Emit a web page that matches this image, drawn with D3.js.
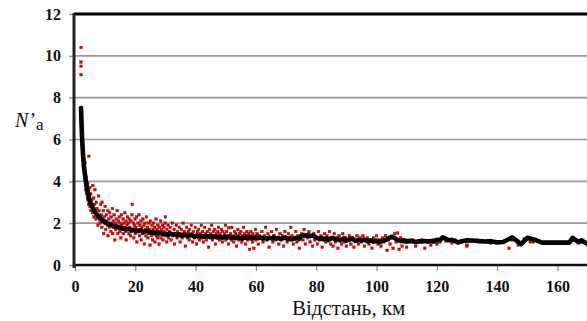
<!DOCTYPE html>
<html><head><meta charset="utf-8">
<script src="https://cdn.jsdelivr.net/npm/d3@7/dist/d3.min.js"></script>
<style>html,body{margin:0;padding:0;background:#fff;overflow:hidden}</style>
</head><body>
<script>
const yTicks = [0, 2, 4, 6, 8, 10, 12];
const xTicks = [0, 20, 40, 60, 80, 100, 120, 140, 160];
const xTitle = "Відстань, км";
const yTitleMain = "N’";
const yTitleSub = "a";

// averaged curve (black)
const lineData = [[2,7.5],[2.2,6.6],[2.4,5.9],[2.7,5.2],[3,4.7],[3.4,4.2],[3.8,3.8],[4.2,3.5],[4.7,3.2],[5.2,2.95],[5.8,2.75],[6.4,2.6],[7,2.45],[7.6,2.35],[8.3,2.25],[9,2.15],[9.7,2.08],[10.5,2.0],[11.2,1.95],[12,1.92],[12.8,1.86],[13.5,1.85],[14.3,1.8],[15,1.78],[15.8,1.75],[16.5,1.74],[17.2,1.7],[18,1.72],[18.7,1.66],[19.5,1.68],[20.2,1.63],[21,1.62],[21.8,1.66],[22.5,1.58],[23.3,1.6],[24,1.62],[24.8,1.55],[25.5,1.57],[26.3,1.52],[27,1.56],[27.8,1.5],[28.5,1.53],[29.3,1.48],[30,1.5],[30.8,1.46],[31.5,1.52],[32.3,1.45],[33,1.48],[33.8,1.43],[34.5,1.47],[35.3,1.4],[36,1.45],[36.8,1.42],[37.5,1.38],[38.3,1.44],[39,1.4],[39.8,1.36],[40.5,1.42],[41.3,1.37],[42,1.4],[42.8,1.34],[43.5,1.39],[44.3,1.35],[45,1.38],[45.8,1.33],[46.5,1.37],[47.3,1.32],[48,1.36],[48.8,1.3],[49.5,1.35],[50.3,1.31],[51,1.36],[51.8,1.3],[52.5,1.33],[53.3,1.28],[54,1.34],[54.8,1.3],[55.5,1.26],[56.3,1.32],[57,1.28],[57.8,1.33],[58.5,1.27],[59.3,1.3],[60,1.35],[60.8,1.28],[61.5,1.32],[62.3,1.26],[63,1.3],[63.8,1.25],[64.5,1.31],[65.3,1.27],[66,1.33],[66.8,1.26],[67.5,1.3],[68.3,1.24],[69,1.28],[69.8,1.32],[70.5,1.25],[71.3,1.29],[72,1.22],[72.8,1.27],[73.5,1.3],[74.3,1.24],[75,1.38],[75.8,1.42],[76.5,1.4],[77.3,1.43],[78,1.38],[78.8,1.41],[79.5,1.35],[80.3,1.3],[81,1.25],[81.8,1.3],[82.5,1.22],[83.3,1.27],[84,1.2],[84.8,1.26],[85.5,1.3],[86.3,1.22],[87,1.25],[87.8,1.18],[88.5,1.23],[89.3,1.28],[90,1.16],[91,1.22],[92,1.26],[93,1.15],[94,1.2],[95,1.17],[96,1.22],[97,1.13],[98,1.18],[99,1.12],[100,1.17],[101,1.1],[102,1.15],[103,1.2],[104,1.28],[105,1.35],[106,1.3],[107,1.2],[108,1.14],[109,1.18],[110,1.12],[111,1.16],[112,1.13],[113,1.1],[114,1.14],[115,1.12],[116,1.15],[117,1.12],[118,1.15],[119,1.12],[120,1.2],[121,1.18],[122,1.32],[123,1.25],[124,1.18],[125,1.2],[126,1.15],[127,1.08],[128,1.12],[130,1.18],[132,1.17],[134,1.14],[136,1.12],[138,1.14],[140,1.08],[142,1.1],[145,1.32],[148,1.0],[150,1.3],[153,1.18],[155,1.07],[160,1.07],[164,1.07],[165,1.3],[167,1.1],[168,1.18],[170,1.0],[172,1.1]];

// individual measurements (red)
const scatterData = [[2,10.4],[2,9.7],[2,9.5],[2,9.1],[2,7.4],[2.1,7.1],[2.1,6.9],[2.2,6.7],[2.2,6.4],[2.3,6.2],[2.3,6.0],[2.4,5.8],[2.5,5.7],[2.5,6.3],[2.6,5.5],[2.7,5.3],[2.8,5.1],[2.9,4.9],[3,4.7],[3.1,4.5],[3.2,4.3],[3.3,4.9],[3.4,4.1],[3.5,3.9],[3.6,3.6],[3.7,3.8],[3.8,4.2],[3.9,3.4],[4,3.5],[4.1,3.2],[4.2,3.9],[4.3,3.1],[4.4,3.6],[4.6,5.2],[4.5,2.9],[4.7,3.3],[4.8,3.0],[4.9,3.7],[5,2.8],[5.2,3.4],[5.3,2.6],[5.5,3.1],[5.6,2.9],[5.8,2.5],[5.9,3.8],[6,2.7],[6.2,3.2],[6.3,2.3],[6.5,2.9],[6.6,3.6],[6.8,2.5],[7,2.2],[7.1,3.0],[7.3,2.7],[7.5,2.4],[7.6,1.9],[7.8,3.3],[8,2.6],[8.2,2.2],[8.3,2.0],[8.5,2.9],[8.7,2.4],[8.9,1.8],[9,3.0],[9.2,2.1],[9.4,2.6],[9.5,1.5],[9.7,2.3],[9.9,2.0],[10,2.8],[10.2,1.7],[10.4,2.4],[10.5,2.1],[10.7,1.9],[10.9,2.6],[11,1.4],[11.2,2.2],[11.4,1.8],[11.5,2.5],[11.7,2.0],[11.9,1.6],[12,2.3],[12.2,1.9],[12.4,2.7],[12.5,1.5],[12.7,2.1],[12.9,1.8],[13,2.4],[13.2,1.2],[13.4,2.0],[13.5,1.7],[13.7,2.2],[13.9,1.9],[14,2.6],[14.2,1.5],[14.4,2.1],[14.5,1.8],[14.7,2.3],[14.9,1.6],[15,2.0],[15.2,1.3],[15.4,2.4],[15.5,1.9],[15.7,1.7],[15.9,2.2],[16,1.5],[16.2,2.0],[16.4,1.8],[16.5,2.5],[16.7,1.6],[16.9,2.1],[17,1.2],[17.2,1.9],[17.4,2.3],[17.5,1.7],[17.7,2.0],[17.9,1.5],[18,2.2],[18.2,1.8],[18.4,1.4],[18.5,2.1],[18.7,1.6],[18.9,2.4],[19,2.9],[19.2,1.7],[19.4,2.0],[19.5,1.3],[19.7,1.9],[19.9,2.2],[20,1.5],[20.2,1.8],[20.4,2.3],[20.5,1.1],[20.7,1.7],[20.9,2.0],[21,1.6],[21.2,2.4],[21.4,1.4],[21.5,1.9],[21.7,1.7],[21.9,2.1],[22,1.2],[22.2,1.8],[22.4,1.5],[22.5,2.2],[22.7,1.6],[22.9,1.9],[23,1.0],[23.2,2.0],[23.4,1.7],[23.5,1.4],[23.7,2.3],[23.9,1.6],[24,1.8],[24.2,1.3],[24.4,2.0],[24.5,1.5],[24.7,1.7],[24.9,0.95],[25,2.1],[25.2,1.6],[25.4,1.4],[25.5,1.9],[25.7,1.2],[25.9,1.7],[26,2.0],[26.2,1.5],[26.4,1.8],[26.5,1.1],[26.7,1.6],[26.9,2.2],[27,1.4],[27.2,1.7],[27.4,1.3],[27.5,1.9],[27.7,1.5],[27.9,1.0],[28,1.8],[28.2,1.6],[28.4,2.1],[28.5,1.3],[28.7,1.7],[28.9,1.5],[29,1.9],[29.2,1.2],[29.4,1.6],[29.5,1.8],[29.7,1.4],[29.9,2.0],[30,2.3],[30.2,1.5],[30.4,1.1],[30.5,1.7],[30.7,1.4],[30.9,1.9],[31,1.3],[31.3,1.6],[31.6,1.8],[31.9,1.2],[32,1.5],[32.3,2.0],[32.6,1.4],[32.9,1.7],[33,1.0],[33.3,1.5],[33.6,1.9],[33.9,1.3],[34,1.6],[34.3,1.4],[34.6,1.8],[34.9,1.1],[35,1.5],[35.3,1.7],[35.6,1.3],[35.9,2.0],[36,1.4],[36.3,1.6],[36.6,0.9],[36.9,1.5],[37,1.8],[37.3,1.3],[37.6,1.6],[37.9,1.2],[38,1.7],[38.3,1.4],[38.6,1.9],[38.9,1.5],[39,1.1],[39.3,1.6],[39.6,1.3],[39.9,1.8],[40,1.4],[40.3,1.0],[40.6,1.6],[40.9,1.3],[41,1.7],[41.3,1.2],[41.6,1.5],[41.9,1.9],[42,1.3],[42.3,1.6],[42.6,1.1],[42.9,1.4],[43,1.8],[43.3,1.5],[43.6,1.2],[43.9,1.6],[44,1.4],[44.3,0.85],[44.6,1.7],[44.9,1.3],[45,1.5],[45.3,1.9],[45.6,1.2],[45.9,1.6],[46,1.4],[46.3,1.7],[46.6,1.0],[46.9,1.5],[47,1.3],[47.3,1.6],[47.6,1.8],[47.9,1.2],[48,1.5],[48.3,1.4],[48.6,1.7],[48.9,1.1],[49,1.6],[49.3,1.3],[49.6,1.5],[49.9,1.9],[50,1.2],[50.3,1.6],[50.6,1.4],[50.9,1.0],[51,1.78],[51.3,1.3],[51.6,1.5],[51.9,1.2],[52,1.8],[52.3,1.4],[52.6,1.1],[52.9,1.6],[53,1.3],[53.3,1.5],[53.6,0.9],[53.9,1.4],[54,1.7],[54.3,1.2],[54.6,1.5],[54.9,1.3],[55,1.6],[55.3,1.1],[55.6,1.4],[55.9,1.8],[56,1.3],[56.3,1.5],[56.6,1.0],[56.9,1.4],[57,1.6],[57.3,1.2],[57.6,1.5],[57.9,0.75],[58,1.3],[58.3,1.6],[58.6,1.4],[58.9,1.1],[59,1.5],[59.3,0.8],[59.6,1.3],[59.9,1.7],[60,1.2],[60.4,1.5],[60.8,1.0],[61.2,1.4],[61.6,1.3],[62,1.6],[62.4,1.1],[62.8,1.4],[63.2,1.8],[63.6,1.2],[64,1.5],[64.4,0.85],[64.8,1.3],[65.2,1.6],[65.6,1.1],[66,1.4],[66.4,1.2],[66.8,1.7],[67.2,1.3],[67.6,1.0],[68,1.5],[68.4,1.2],[68.8,1.4],[69.2,0.9],[69.6,1.6],[70,1.3],[70.4,1.1],[70.8,1.5],[71.2,1.2],[71.6,1.8],[72,1.4],[72.4,1.0],[72.8,1.3],[73.2,1.6],[73.6,1.1],[74,1.4],[74.4,0.8],[74.8,1.3],[75.2,1.5],[75.6,1.2],[76,1.7],[76.4,1.0],[76.8,1.4],[77.2,1.3],[77.6,1.6],[78,1.1],[78.4,1.4],[78.8,0.9],[79.2,1.5],[79.6,1.2],[80,1.3],[80.4,1.0],[80.8,1.6],[81.2,1.2],[81.6,1.4],[82,0.85],[82.4,1.3],[82.8,1.5],[83.2,1.1],[83.6,1.4],[84,1.2],[84.4,1.6],[84.8,1.0],[85.2,1.3],[85.6,0.9],[86,1.5],[86.4,1.1],[86.8,1.3],[87.2,0.8],[87.6,1.4],[88,1.2],[88.4,1.0],[88.8,1.5],[89.2,1.1],[89.6,1.3],[90,0.9],[90.5,1.2],[91,1.4],[91.5,1.0],[92,1.3],[92.5,0.85],[93,1.2],[93.5,1.4],[94,1.0],[94.5,1.3],[95,1.1],[95.5,1.4],[96,0.9],[96.5,1.2],[97,1.3],[97.5,1.0],[98,1.2],[98.5,0.8],[99,1.3],[99.5,1.1],[100,1.4],[100.5,1.0],[101,1.2],[101.5,0.9],[102,1.3],[102.5,1.1],[103,1.4],[103.5,0.7],[104,1.2],[104.5,1.0],[105,1.3],[105.5,0.8],[106,1.5],[106.5,1.1],[107,1.53],[107.5,0.75],[108,1.3],[108.5,0.9],[109,1.1],[109.5,1.2],[110,0.85],[111,1.1],[112,1.2],[113,0.9],[114,1.1],[115,1.2],[116,0.8],[117,1.1],[118,0.95],[119,1.2],[120,1.0],[121,1.1],[122,1.3],[123,1.15],[125,1.05],[126,1.2],[128,1.1],[130,0.9],[130,0.95],[131,1.15],[133,1.15],[134,1.15],[137,1.1],[138,1.05],[141,1.1],[144,0.8],[145,1.2],[147,0.95],[149,1.25],[151,1.1],[152,1.1],[155,1.05],[158,1.05],[163,1.05],[165,1.2],[167,1.05],[168,1.1],[170,1.0]];

const W = 587, H = 321;
const padL = 75, padT = 14, baseY = 265;
const serif = "'Liberation Serif', 'Times New Roman', Times, serif";
const svg = d3.select("body").append("svg").attr("width", W).attr("height", H);

const x = d3.scaleLinear().domain([0, 180]).range([padL, padL + 180 * 3.015]);
const y = d3.scaleLinear().domain([0, 12]).range([baseY, padT]);

// gridlines
svg.append("g").selectAll("line").data(yTicks.filter(t => t > 0 && t < 12)).join("line")
  .attr("x1", padL).attr("x2", W).attr("y1", d => y(d)).attr("y2", d => y(d))
  .attr("stroke", "#9a9a9a").attr("stroke-width", 1.6);

// y axis
const yAxis = svg.append("g").attr("transform", `translate(${padL},0)`)
  .call(d3.axisLeft(y).tickValues(yTicks).tickSize(6).tickPadding(8));
yAxis.select(".domain").remove();
yAxis.selectAll(".tick line").attr("stroke", "#8a8a8a").attr("stroke-width", 1.2);
yAxis.selectAll(".tick text").style("font-family", serif)
  .style("font-size", "16px").style("font-weight", "bold").attr("fill", "#111");

// x axis
const xAxis = svg.append("g").attr("transform", `translate(0,${baseY})`)
  .call(d3.axisBottom(x).tickValues(xTicks).tickSize(6).tickPadding(10));
xAxis.select(".domain").remove();
xAxis.selectAll(".tick line").attr("stroke", "#8a8a8a").attr("stroke-width", 1.2);
xAxis.selectAll(".tick text").style("font-family", serif)
  .style("font-size", "16px").style("font-weight", "bold").attr("fill", "#111");

// frame lines
svg.append("line").attr("x1", padL - 1).attr("x2", W).attr("y1", padT).attr("y2", padT)
  .attr("stroke", "#000").attr("stroke-width", 3);
svg.append("line").attr("x1", padL).attr("x2", W).attr("y1", baseY).attr("y2", baseY)
  .attr("stroke", "#111").attr("stroke-width", 2.4);
svg.append("line").attr("x1", padL - 1).attr("x2", padL - 1).attr("y1", padT - 1).attr("y2", baseY + 3)
  .attr("stroke", "#222").attr("stroke-width", 3);

// data
svg.append("clipPath").attr("id", "pc").append("rect")
  .attr("x", padL + 1).attr("y", padT + 2).attr("width", W - padL).attr("height", baseY - padT - 3);
const g = svg.append("g").attr("clip-path", "url(#pc)");

g.append("g").selectAll("rect").data(scatterData).join("rect")
  .attr("x", d => x(d[0]) - 1.35).attr("y", d => y(d[1]) - 1.35)
  .attr("width", 2.7).attr("height", 2.7)
  .attr("fill", "#dd0000").attr("stroke", "#a00000").attr("stroke-width", 0.3);

g.append("path").datum(lineData)
  .attr("d", d3.line().x(d => x(d[0])).y(d => y(d[1])))
  .attr("fill", "none").attr("stroke", "#000").attr("stroke-width", 4.6)
  .attr("stroke-linejoin", "round").attr("stroke-linecap", "round");

// titles
const yt = svg.append("text").attr("x", 15).attr("y", 127)
  .style("font-family", serif).attr("fill", "#111");
yt.append("tspan").style("font-size", "20px").style("font-style", "italic").text(yTitleMain);
yt.append("tspan").style("font-size", "17px").attr("dy", 3).attr("dx", 1).text(yTitleSub);

svg.append("text").attr("x", 292).attr("y", 315)
  .style("font-family", serif).style("font-size", "21px").attr("fill", "#111").text(xTitle);
</script>
</body></html>
